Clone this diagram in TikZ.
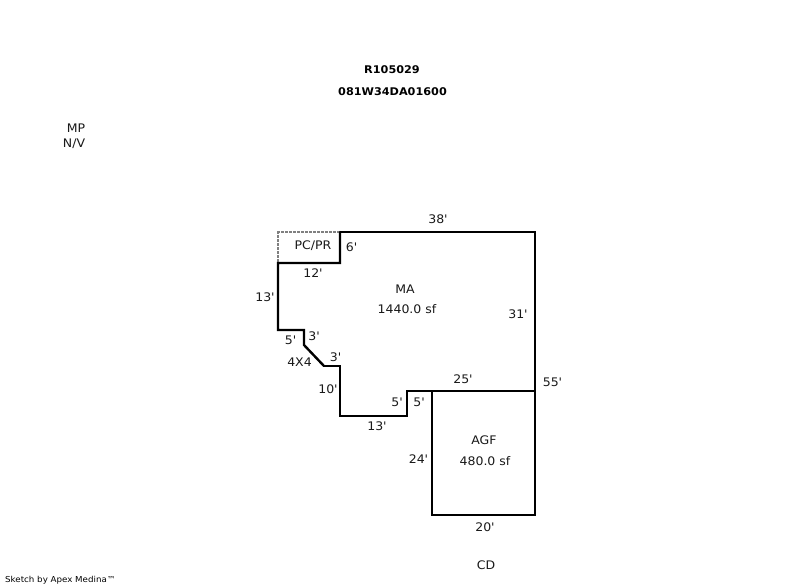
\documentclass[tikz,border=0pt]{standalone}
\usepackage{fontspec}
\setmainfont{DejaVu Sans}[Ligatures=TeXOff,FakeStretch=1.06]
\tikzset{
  wall/.style={line width=2.4pt,line cap=square,line join=miter,black},
  opendash/.style={fill=black!50},
  lbl/.style={inner sep=0pt,font=\fontsize{11.8}{13}\selectfont,text=black!90},
  ttl/.style={inner sep=0pt,font=\fontsize{10.6}{12}\selectfont\bfseries,text=black},
  credit/.style={inner sep=0pt,font=\fontsize{8.2}{10}\selectfont,text=black,anchor=west}
}
\begin{document}
\begin{tikzpicture}[x=1pt,y=-1pt]
\useasboundingbox (0,0) rectangle (800,587);
\fill[white] (0,0) rectangle (800,587);
% corners
\coordinate (b) at (340,232);
\coordinate (c) at (535,232);
\coordinate (d) at (535,391);
\coordinate (e) at (535,515);
\coordinate (f) at (432,515);
\coordinate (g) at (432,391);
\coordinate (h) at (407,391);
\coordinate (i) at (407,416);
\coordinate (j) at (340,416);
\coordinate (k) at (340,366);
\coordinate (l) at (324,366);
\coordinate (m) at (304,345);
\coordinate (n) at (304,330);
\coordinate (o) at (278,330);
\coordinate (p) at (278,263);
\coordinate (q) at (340,263);
% open (dotted) edge of the porch
\foreach \s in {277,281,...,337} {\path[opendash] (\s,231) rectangle ++(3,2);}
\foreach \s in {231,235,...,259} {\path[opendash] (277,\s) rectangle ++(2,3);}
\draw[wall] (b) -- (c) -- (e) -- (f) -- (g);
\draw[wall] (d) -- (h) -- (i) -- (j) -- (k) -- (l);
\draw[wall,line cap=round] (l) -- (m) -- (n) -- (o) -- (p) -- (q) -- (b);
% texts
\node[ttl] (t1) at (392,69.5) {R105029};
\node[ttl] (t2) at (392.5,91.5) {081W34DA01600};
\node[lbl] (mp) at (76,128) {MP};
\node[lbl] (nv) at (74,144) {N/V};
\node[lbl] (pc) at (313,246) {PC/PR};
\node[lbl] (d6) at (351.5,247) {6'};
\node[lbl] (d38) at (438,219) {38'};
\node[lbl] (d12) at (313,273) {12'};
\node[lbl] (d13a) at (265,297) {13'};
\node[lbl] (ma) at (405,289) {MA};
\node[lbl] (maa) at (407,309) {1440.0 sf};
\node[lbl] (d31) at (518,314) {31'};
\node[lbl] (d5a) at (290.5,340) {5'};
\node[lbl] (d3a) at (314,336) {3'};
\node[lbl] (d3b) at (335.5,357) {3'};
\node[lbl] (x4) at (299.5,362) {4X4};
\node[lbl] (d25) at (463,379) {25'};
\node[lbl] (d55) at (552.5,382) {55'};
\node[lbl] (d10) at (328,389) {10'};
\node[lbl] (d5b) at (397,402) {5'};
\node[lbl] (d5c) at (419,402) {5'};
\node[lbl] (d13b) at (377,426) {13'};
\node[lbl] (agf) at (484,440) {AGF};
\node[lbl] (aga) at (485,461) {480.0 sf};
\node[lbl] (d24) at (418.5,459) {24'};
\node[lbl] (d20) at (485,527) {20'};
\node[lbl] (cd) at (486,565) {CD};
\node[credit] (by) at (5,580) {Sketch by Apex Medina™};
\end{tikzpicture}
\end{document}
